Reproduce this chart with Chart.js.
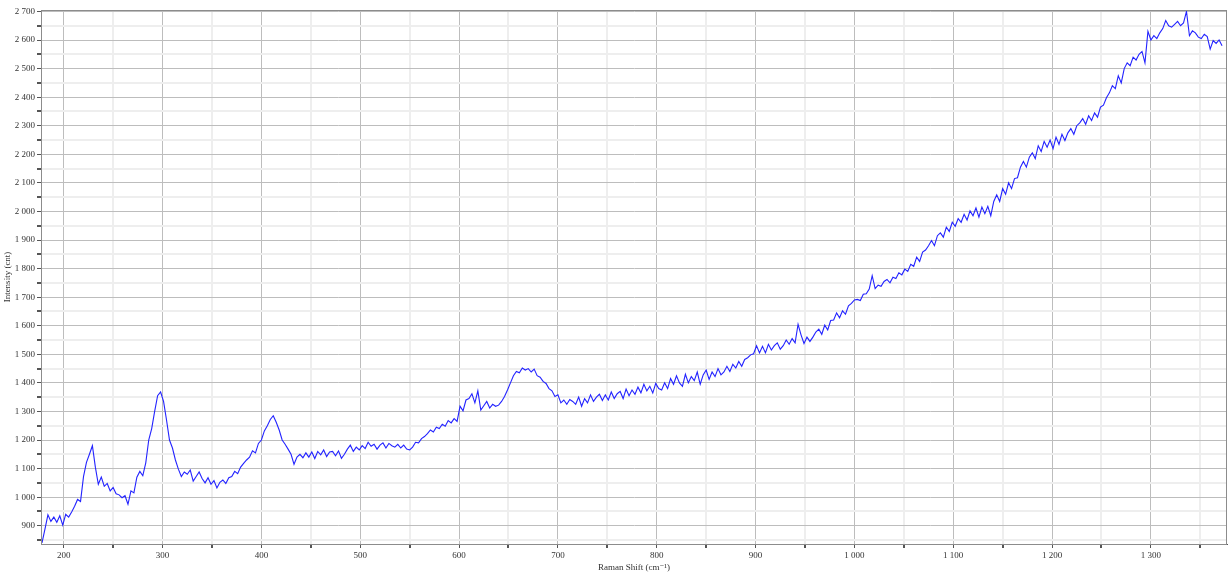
<!DOCTYPE html>
<html>
<head>
<meta charset="utf-8">
<script src="https://cdn.jsdelivr.net/npm/chart.js@4"></script>
<style>
  html, body { margin: 0; padding: 0; background: #fff; }
  #wrap { width: 1229px; height: 576px; }
</style>
</head>
<body>
<div id="wrap"><canvas id="spectrum" width="1229" height="576"></canvas></div>
<script>
// Raman shift (cm-1)
const shifts = [
  178,181,184,187,190,193,196,199,202,205,
  208,211,214,217,220,223,226,229,232,235,
  238,241,244,247,250,253,256,259,262,265,
  268,271,274,277,280,283,286,289,292,295,
  298,301,304,307,310,313,316,319,322,325,
  328,331,334,337,340,343,346,349,352,355,
  358,361,364,367,370,373,376,379,382,385,
  388,391,394,397,400,403,406,409,412,415,
  418,421,424,427,430,433,436,439,442,445,
  448,451,454,457,460,463,466,469,472,475,
  478,481,484,487,490,493,496,499,502,505,
  508,511,514,517,520,523,526,529,532,535,
  538,541,544,547,550,553,556,559,562,565,
  568,571,574,577,580,583,586,589,592,595,
  598,601,604,607,610,613,616,619,622,625,
  628,631,634,637,640,643,646,649,652,655,
  658,661,664,667,670,673,676,679,682,685,
  688,691,694,697,700,703,706,709,712,715,
  718,721,724,727,730,733,736,739,742,745,
  748,751,754,757,760,763,766,769,772,775,
  778,781,784,787,790,793,796,799,802,805,
  808,811,814,817,820,823,826,829,832,835,
  838,841,844,847,850,853,856,859,862,865,
  868,871,874,877,880,883,886,889,892,895,
  898,901,904,907,910,913,916,919,922,925,
  928,931,934,937,940,943,946,949,952,955,
  958,961,964,967,970,973,976,979,982,985,
  988,991,994,997,1000,1003,1006,1009,1012,1015,
  1018,1021,1024,1027,1030,1033,1036,1039,1042,1045,
  1048,1051,1054,1057,1060,1063,1066,1069,1072,1075,
  1078,1081,1084,1087,1090,1093,1096,1099,1102,1105,
  1108,1111,1114,1117,1120,1123,1126,1129,1132,1135,
  1138,1141,1144,1147,1150,1153,1156,1159,1162,1165,
  1168,1171,1174,1177,1180,1183,1186,1189,1192,1195,
  1198,1201,1204,1207,1210,1213,1216,1219,1222,1225,
  1228,1231,1234,1237,1240,1243,1246,1249,1252,1255,
  1258,1261,1264,1267,1270,1273,1276,1279,1282,1285,
  1288,1291,1294,1297,1300,1303,1306,1309,1312,1315,
  1318,1321,1324,1327,1330,1333,1336,1339,1342,1345,
  1348,1351,1354,1357,1360,1363,1366,1369,1372
]

// intensity (cnt)
const counts = [
  840,888,938,915,930,912,935,902,940,930,
  948,968,992,985,1072,1122,1150,1180,1105,1045,
  1070,1038,1048,1022,1034,1012,1008,998,1005,975,
  1022,1015,1070,1090,1075,1120,1200,1240,1300,1355,
  1368,1335,1270,1200,1172,1130,1098,1072,1088,1080,
  1095,1056,1072,1088,1065,1050,1068,1045,1058,1032,
  1052,1060,1048,1068,1072,1090,1082,1105,1118,1130,
  1140,1162,1155,1188,1200,1232,1250,1272,1285,1262,
  1235,1200,1185,1168,1150,1115,1140,1150,1138,1155,
  1140,1158,1135,1160,1148,1165,1142,1158,1160,1145,
  1162,1136,1150,1168,1182,1160,1175,1165,1180,1170,
  1192,1178,1185,1168,1182,1190,1172,1188,1180,1175,
  1185,1172,1182,1168,1165,1175,1192,1190,1205,1212,
  1222,1235,1228,1245,1240,1255,1248,1268,1260,1275,
  1265,1318,1302,1340,1345,1362,1330,1372,1305,1320,
  1335,1312,1325,1318,1322,1335,1352,1375,1400,1425,
  1440,1435,1452,1445,1450,1438,1448,1425,1420,1405,
  1398,1380,1372,1352,1358,1330,1340,1325,1342,1335,
  1325,1350,1318,1345,1330,1358,1335,1350,1360,1338,
  1358,1340,1368,1345,1362,1370,1345,1378,1355,1375,
  1360,1385,1365,1395,1372,1388,1365,1398,1380,1375,
  1400,1380,1415,1395,1425,1400,1388,1430,1400,1422,
  1408,1438,1395,1428,1445,1412,1438,1422,1450,1428,
  1438,1458,1440,1465,1452,1475,1458,1482,1488,1498,
  1502,1530,1505,1528,1505,1535,1515,1530,1540,1518,
  1530,1550,1535,1555,1540,1605,1568,1538,1560,1545,
  1560,1578,1588,1570,1602,1585,1618,1620,1645,1628,
  1652,1640,1670,1678,1690,1692,1688,1710,1712,1728,
  1775,1730,1742,1738,1755,1762,1750,1770,1765,1785,
  1778,1798,1790,1815,1808,1840,1825,1858,1865,1880,
  1898,1880,1915,1925,1910,1945,1930,1962,1948,1975,
  1962,1990,1970,2002,1985,2012,1980,2015,1992,2018,
  1985,2035,2058,2035,2080,2060,2100,2080,2115,2118,
  2155,2175,2155,2190,2205,2185,2230,2210,2245,2225,
  2250,2220,2260,2235,2270,2248,2275,2290,2270,2300,
  2310,2325,2305,2335,2318,2345,2330,2365,2372,2398,
  2415,2440,2430,2475,2450,2500,2520,2510,2540,2530,
  2550,2560,2520,2630,2600,2615,2605,2625,2640,2668,
  2650,2645,2655,2665,2650,2660,2700,2615,2632,2625,
  2610,2605,2620,2612,2568,2598,2588,2600,2580
]

const xRange = [177, 1377]
const yRange = [836, 2705]
// tick positions every 50, labels only on the hundreds
const xTicks = [200,250,300,350,400,450,500,550,600,650,700,750,800,850,900,950,1000,1050,1100,1150,1200,1250,1300,1350]

function spaced(v){
  return String(v).replace(/\B(?=(\d{3})+(?!\d))/g, ' ')
}

const serif = { family: '"Liberation Serif", "DejaVu Serif", serif', size: 9 }

function gridColor(ctx){
  if (!ctx.tick) return '#bdbdbd'
  return ctx.tick.value % 100 === 0 ? '#bdbdbd' : '#eeeeee'
}
function gridWidth(ctx){
  if (!ctx.tick) return 1
  return ctx.tick.value % 100 === 0 ? 1 : 2
}

// frame round the plot area (top/right edges)
const frame = {
  id: 'frame',
  afterDraw(chart){
    const a = chart.chartArea
    const c = chart.ctx
    c.save()
    c.strokeStyle = '#8c8c8c'
    c.lineWidth = 1
    c.strokeRect(a.left + 0.5, a.top + 0.5, a.right - a.left - 1, a.bottom - a.top)
    c.restore()
  }
}

new Chart(document.getElementById('spectrum'), {
  type: 'line',
  data: {
    datasets: [{
      data: shifts.map((s, i) => ({ x: s, y: counts[i] })),
      borderColor: 'rgb(35,35,255)',
      borderWidth: 1.1,
      pointRadius: 0,
      tension: 0,
      fill: false
    }]
  },
  options: {
    responsive: false,
    animation: false,
    layout: { padding: { top: 10, right: 2, left: 0, bottom: 0 } },
    plugins: { legend: { display: false }, tooltip: { enabled: false } },
    scales: {
      x: {
        type: 'linear',
        min: xRange[0],
        max: xRange[1],
        afterBuildTicks: scale => { scale.ticks = xTicks.map(v => ({ value: v })) },
        afterFit: scale => { scale.height = 32 },
        border: { color: '#555', width: 1 },
        grid: { color: gridColor, lineWidth: gridWidth, tickLength: 4, tickColor: '#555' },
        ticks: {
          autoSkip: false,
          maxRotation: 0,
          padding: 2,
          color: '#333',
          font: serif,
          callback: v => v % 100 === 0 ? spaced(v) : ''
        },
        title: {
          display: true,
          text: 'Raman Shift (cm⁻¹)',
          color: '#333',
          font: serif,
          padding: { top: 0, bottom: 3 }
        }
      },
      y: {
        min: yRange[0],
        max: yRange[1],
        afterFit: scale => { scale.width = 41 },
        border: { color: '#555', width: 1 },
        grid: { color: gridColor, lineWidth: gridWidth, tickLength: 4, tickColor: '#555' },
        ticks: {
          stepSize: 50,
          includeBounds: false,
          autoSkip: false,
          padding: 2,
          color: '#333',
          font: serif,
          callback: v => v % 100 === 0 ? spaced(v) : ''
        },
        title: {
          display: true,
          text: 'Intensity (cnt)',
          color: '#333',
          font: serif,
          padding: { top: 2, bottom: 0 }
        }
      }
    }
  },
  plugins: [frame]
})
</script>
</body>
</html>
